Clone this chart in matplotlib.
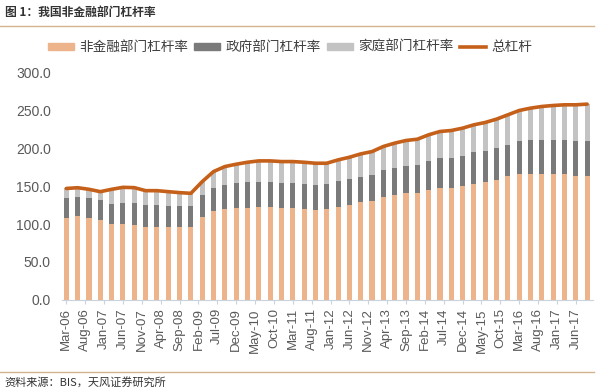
import matplotlib.pyplot as plt
from matplotlib.lines import Line2D
from matplotlib.patches import Patch
import numpy as np

plt.rcParams['font.family'] = ['Liberation Sans', 'Noto Sans CJK SC', 'DejaVu Sans']

# quarterly data, Mar-06 .. Sep-17 (every 3 months)
nonfin = [108.0, 110.2, 108.0, 105.8, 100.5, 100.5, 99.2, 96.6, 96.6, 96.6, 96.6, 96.6,
          108.9, 116.8, 119.9, 120.8, 121.3, 122.1, 122.1, 121.3, 121.3,
          119.9, 119.0, 119.9, 122.6, 125.2, 128.8, 130.1, 135.8, 138.0, 141.1, 141.1,
          144.6, 147.7, 148.1, 150.8, 153.4, 156.1, 158.7, 163.1, 166.2, 166.7, 166.7,
          166.7, 165.8, 164.0, 163.1]
gov = [26.5, 25.6, 26.5, 26.5, 26.5, 27.4, 28.7, 29.1, 29.1, 27.7, 26.9, 26.9,
       29.1, 30.9, 32.2, 33.5, 33.9, 34.0, 33.5, 33.0, 33.0,
       33.5, 33.1, 33.5, 33.9, 34.4, 33.5, 35.2, 35.3, 36.2, 36.1, 37.0,
       38.4, 39.3, 39.7, 39.7, 41.5, 41.0, 41.5, 41.5, 42.8, 44.5, 44.9,
       44.9, 45.8, 45.4, 45.9]
household = [12.5, 12.2, 11.4, 10.5, 18.9, 20.6, 20.2, 18.4, 18.4, 18.5, 18.0, 17.1,
             18.0, 21.6, 23.8, 24.7, 26.4, 27.3, 27.8, 28.2, 28.2,
             28.2, 28.2, 26.9, 28.2, 28.6, 30.3, 30.4, 31.3, 32.6, 33.1, 33.9,
             34.8, 35.2, 35.7, 36.1, 36.1, 37.0, 38.3, 39.6, 40.9, 41.8, 43.6,
             44.9, 45.8, 48.0, 49.3]
total = [a + b + c for a, b, c in zip(nonfin, gov, household)]

tick_labels = ['Mar-06', 'Aug-06', 'Jan-07', 'Jun-07', 'Nov-07', 'Apr-08', 'Sep-08',
               'Feb-09', 'Jul-09', 'Dec-09', 'May-10', 'Oct-10', 'Mar-11', 'Aug-11',
               'Jan-12', 'Jun-12', 'Nov-12', 'Apr-13', 'Sep-13', 'Feb-14', 'Jul-14',
               'Dec-14', 'May-15', 'Oct-15', 'Mar-16', 'Aug-16', 'Jan-17', 'Jun-17']

c_nonfin = '#EDB48C'
c_gov = '#7A7A7A'
c_house = '#C3C3C3'
c_total = '#C5601A'

# month index since Mar-06
x = np.arange(len(nonfin)) * 3
xt = np.arange(len(tick_labels)) * 5

fig = plt.figure(figsize=(6, 3.92), dpi=100)
ax = fig.add_axes([0.103, 0.235, 0.885, 0.58])

w = 1.35
ax.bar(x, nonfin, width=w, color=c_nonfin, zorder=2)
ax.bar(x, gov, width=w, bottom=nonfin, color=c_gov, zorder=2)
ax.bar(x, household, width=w, bottom=np.array(nonfin) + np.array(gov), color=c_house, zorder=2)
ax.plot(x, total, color=c_total, lw=2.6, zorder=3, solid_capstyle='round')

ax.set_ylim(0, 300)
ax.set_yticks(np.arange(0, 301, 50))
ax.set_yticklabels([f'{v:.1f}' for v in np.arange(0, 301, 50)])
ax.set_xlim(-1.2, 139.5)
ax.set_xticks(xt)
ax.set_xticklabels(tick_labels, rotation=90)
ax.tick_params(axis='y', length=0, labelsize=10, labelcolor='#595959', pad=8)
ax.tick_params(axis='x', length=3, color='#C9D3DD', labelsize=9.5, labelcolor='#595959', pad=3)
for s in ['top', 'right', 'left']:
    ax.spines[s].set_visible(False)
ax.spines['bottom'].set_color('#C9D3DD')

handles = [Patch(color=c_nonfin), Patch(color=c_gov), Patch(color=c_house),
           Line2D([], [], color=c_total, lw=2.6)]
labels = ['非金融部门杠杆率', '政府部门杠杆率', '家庭部门杠杆率', '总杠杆']
leg = fig.legend(handles, labels, loc='center', bbox_to_anchor=(0.483, 0.88), ncol=4,
                 frameon=False, handlelength=1.9, handleheight=0.45,
                 columnspacing=0.45, handletextpad=0.4,
                 prop={'family': ['Noto Sans CJK SC'], 'size': 9.8})
for t in leg.get_texts():
    t.set_color('#404040')

fig.text(0.008, 0.968, '图 1：我国非金融部门杠杆率', fontsize=8.5, fontweight='bold',
         color='#333333', va='center', family=['Noto Sans CJK SC'])
fig.add_artist(Line2D([0, 0.99], [0.934, 0.934], color='#D2B48C', lw=1))
fig.add_artist(Line2D([0, 0.99], [0.051, 0.051], color='#D2B48C', lw=1))
fig.text(0.008, 0.025, '资料来源：BIS，天风证券研究所', fontsize=8,
         color='#333333', va='center', family=['Noto Sans CJK SC'])

fig.savefig('out.png', dpi=100)
